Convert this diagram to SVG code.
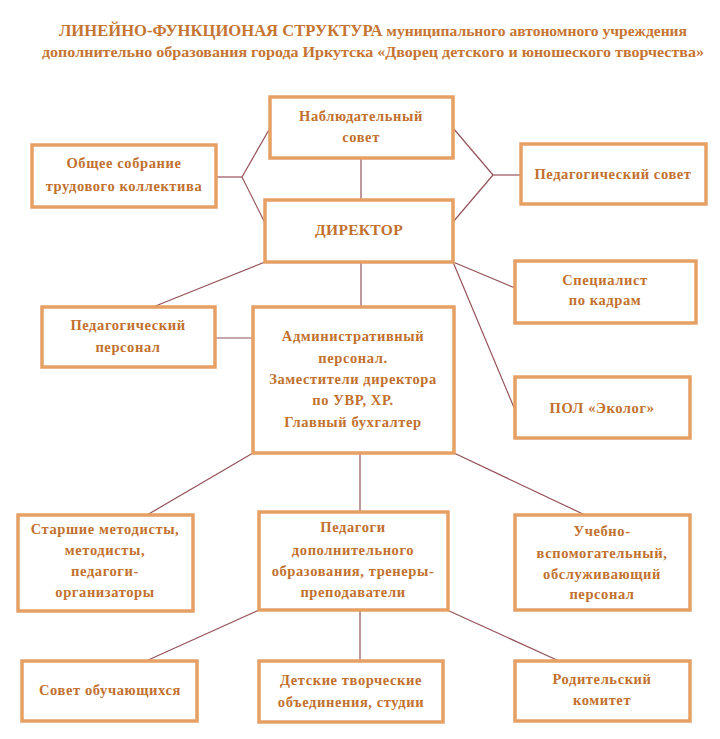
<svg xmlns="http://www.w3.org/2000/svg" width="720" height="739" viewBox="0 0 720 739">
<style>
.box{fill:#fff;stroke:#E6A064;stroke-width:3.5}
.t{font-family:"Liberation Serif","Times New Roman",serif;font-weight:bold;font-size:14.5px;fill:#C2702E;text-anchor:middle;letter-spacing:0.6px}
.big{font-size:15.5px;letter-spacing:0.3px}
.title{font-family:"Liberation Serif","Times New Roman",serif;font-weight:bold;font-size:15px;fill:#C57432;text-anchor:middle}
.c line{stroke:#94525A;stroke-width:1.2}
</style>
<rect width="720" height="739" fill="#fff"/>
<g id="title">
<text class="title" x="373" y="36" textLength="628" lengthAdjust="spacingAndGlyphs"><tspan font-size="16px">ЛИНЕЙНО-ФУНКЦИОНАЯ СТРУКТУРА</tspan> муниципального автономного учреждения</text>
<text class="title" x="373" y="57" textLength="662" lengthAdjust="spacingAndGlyphs">дополнительно образования города Иркутска «Дворец детского и юношеского творчества»</text>
</g>
<g id="connectors" class="c">
<line x1="216" y1="177" x2="242" y2="177"/>
<line x1="242" y1="177" x2="270" y2="128"/>
<line x1="242" y1="177" x2="265" y2="223"/>
<line x1="521" y1="175" x2="493" y2="175"/>
<line x1="493" y1="175" x2="453" y2="128"/>
<line x1="493" y1="175" x2="453" y2="222"/>
<line x1="361" y1="158" x2="361" y2="200"/>
<line x1="361" y1="262" x2="361" y2="307"/>
<line x1="265" y1="262" x2="153" y2="307"/>
<line x1="215" y1="338" x2="253" y2="338"/>
<line x1="453" y1="262" x2="515" y2="288"/>
<line x1="453" y1="262" x2="515" y2="410"/>
<line x1="253" y1="453" x2="147" y2="515"/>
<line x1="360" y1="453" x2="360" y2="512"/>
<line x1="454" y1="453" x2="585" y2="515"/>
<line x1="259" y1="610" x2="146" y2="661"/>
<line x1="360" y1="610" x2="360" y2="661"/>
<line x1="447" y1="610" x2="559" y2="661"/>
</g>
<g id="nablyud">
<rect class="box" x="270" y="97" width="183" height="61"/>
<text class="t" x="361" y="121">Наблюдательный</text>
<text class="t" x="361" y="142">совет</text>
</g>
<g id="obshchee">
<rect class="box" x="32" y="145" width="184" height="62"/>
<text class="t" x="124" y="168">Общее собрание</text>
<text class="t" x="124" y="191">трудового коллектива</text>
</g>
<g id="director">
<rect class="box" x="265" y="200" width="188" height="62"/>
<text class="t big" x="359" y="235">ДИРЕКТОР</text>
</g>
<g id="pedsovet">
<rect class="box" x="521" y="144" width="185" height="60"/>
<text class="t" x="613" y="179">Педагогический совет</text>
</g>
<g id="spec">
<rect class="box" x="515" y="261" width="181" height="62"/>
<text class="t" x="605" y="285">Специалист</text>
<text class="t" x="605" y="305">по кадрам</text>
</g>
<g id="pol">
<rect class="box" x="515" y="377" width="175" height="61"/>
<text class="t" x="602" y="413">ПОЛ «Эколог»</text>
</g>
<g id="pedpers">
<rect class="box" x="42" y="307" width="173" height="60"/>
<text class="t" x="128" y="330">Педагогический</text>
<text class="t" x="128" y="352">персонал</text>
</g>
<g id="admin">
<rect class="box" x="253" y="307" width="201" height="146"/>
<text class="t" x="353" y="341">Административный</text>
<text class="t" x="353" y="363">персонал.</text>
<text class="t" x="353" y="384">Заместители директора</text>
<text class="t" x="353" y="405">по УВР, ХР.</text>
<text class="t" x="353" y="427">Главный бухгалтер</text>
</g>
<g id="starsh">
<rect class="box" x="18" y="515" width="175" height="96"/>
<text class="t" x="105" y="534">Старшие методисты,</text>
<text class="t" x="105" y="555">методисты,</text>
<text class="t" x="105" y="576">педагоги-</text>
<text class="t" x="105" y="597">организаторы</text>
</g>
<g id="pedagogi">
<rect class="box" x="259" y="512" width="189" height="98"/>
<text class="t" x="353" y="532">Педагоги</text>
<text class="t" x="353" y="555">дополнительного</text>
<text class="t" x="353" y="576">образования, тренеры-</text>
<text class="t" x="353" y="597">преподаватели</text>
</g>
<g id="uchebno">
<rect class="box" x="515" y="515" width="175" height="95"/>
<text class="t" x="602" y="536">Учебно-</text>
<text class="t" x="602" y="558">вспомогательный,</text>
<text class="t" x="602" y="579">обслуживающий</text>
<text class="t" x="602" y="599">персонал</text>
</g>
<g id="sovet">
<rect class="box" x="22" y="661" width="175" height="60"/>
<text class="t" x="110" y="695">Совет обучающихся</text>
</g>
<g id="detskie">
<rect class="box" x="259" y="661" width="184" height="61"/>
<text class="t" x="351" y="685">Детские творческие</text>
<text class="t" x="351" y="707">объединения, студии</text>
</g>
<g id="roditel">
<rect class="box" x="515" y="661" width="175" height="60"/>
<text class="t" x="602" y="684">Родительский</text>
<text class="t" x="602" y="705">комитет</text>
</g>
</svg>
